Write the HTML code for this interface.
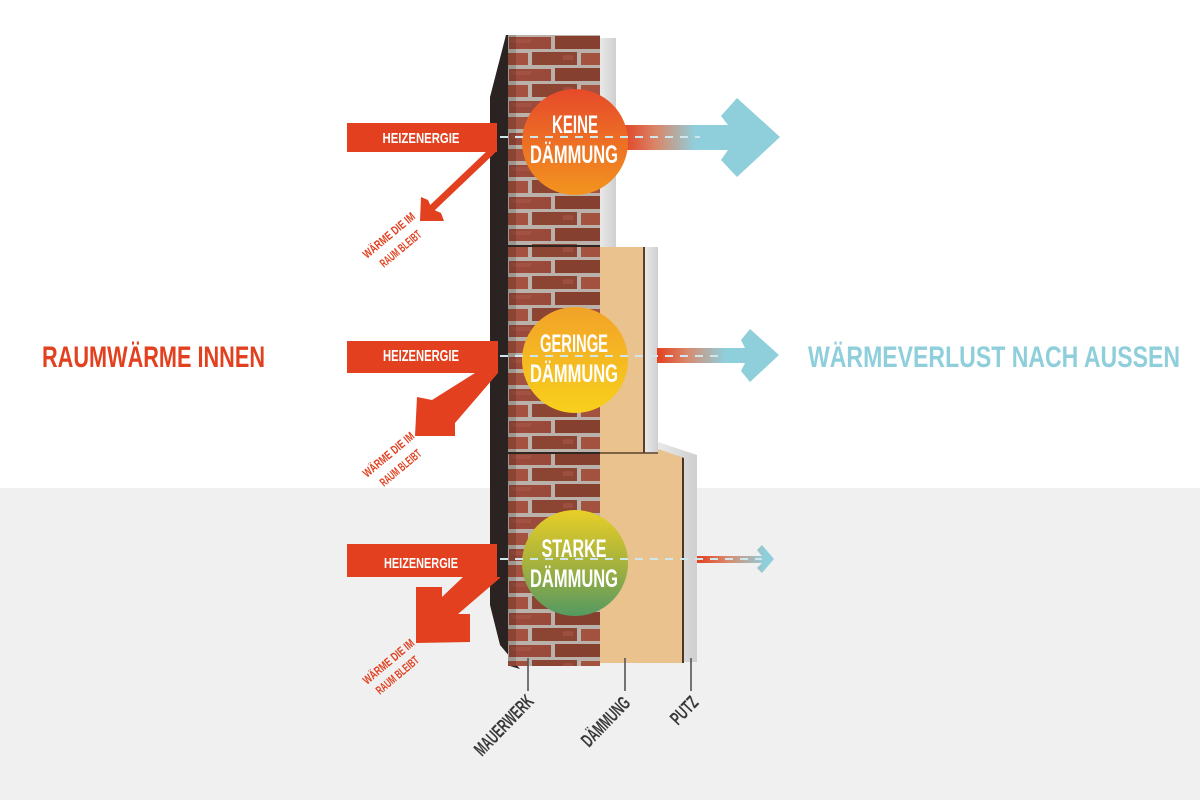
<!DOCTYPE html>
<html><head><meta charset="utf-8"><style>
html,body{margin:0;padding:0;background:#fff;}
svg{display:block;}
text{font-family:"Liberation Sans Narrow","Liberation Sans",sans-serif;font-weight:bold;}
</style></head><body>
<svg width="1200" height="800" viewBox="0 0 1200 800" xmlns="http://www.w3.org/2000/svg">
<defs>
  <pattern id="brick" x="508" y="35" width="96" height="32" patternUnits="userSpaceOnUse">
    <rect x="0" y="0" width="96" height="32" fill="#bab2aa"/>
    <rect x="1" y="2" width="42" height="12" fill="#9a4a3a"/>
    <rect x="47" y="1" width="45" height="13" fill="#86402f"/>
    <rect x="0" y="18" width="20" height="12" fill="#a3523f"/>
    <rect x="24" y="17" width="45" height="13" fill="#8c4433"/>
    <rect x="73" y="18" width="23" height="12" fill="#a3523f"/>
    <rect x="3" y="4" width="20" height="4" fill="#a9594a" opacity="0.5"/>
    <rect x="55" y="20" width="10" height="5" fill="#b06050" opacity="0.4"/>
  </pattern>
  <linearGradient id="g1" gradientUnits="userSpaceOnUse" x1="625" y1="0" x2="695" y2="0">
    <stop offset="0" stop-color="#e2472a"/><stop offset="0.45" stop-color="#d9876a"/><stop offset="1" stop-color="#8fcfdc"/>
  </linearGradient>
  <linearGradient id="g2" gradientUnits="userSpaceOnUse" x1="657" y1="0" x2="725" y2="0">
    <stop offset="0" stop-color="#e3401e"/><stop offset="0.45" stop-color="#d98a6e"/><stop offset="1" stop-color="#8fcfdc"/>
  </linearGradient>
  <linearGradient id="g3" gradientUnits="userSpaceOnUse" x1="697" y1="0" x2="765" y2="0">
    <stop offset="0" stop-color="#e3401e"/><stop offset="0.45" stop-color="#d98a6e"/><stop offset="1" stop-color="#8fcfdc"/>
  </linearGradient>
  <linearGradient id="c1" x1="0" y1="0" x2="0" y2="1">
    <stop offset="0" stop-color="#e64a2a"/><stop offset="1" stop-color="#f3941f"/>
  </linearGradient>
  <linearGradient id="c2" x1="0" y1="0" x2="0" y2="1">
    <stop offset="0" stop-color="#f2a228"/><stop offset="1" stop-color="#f8d01c"/>
  </linearGradient>
  <linearGradient id="c3" x1="0" y1="0" x2="0" y2="1">
    <stop offset="0" stop-color="#e8cf28"/><stop offset="0.5" stop-color="#a7b23c"/><stop offset="1" stop-color="#549a62"/>
  </linearGradient>
  <linearGradient id="pl" x1="0" y1="0" x2="1" y2="0">
    <stop offset="0" stop-color="#e9e9e9"/><stop offset="1" stop-color="#cfcfcf"/>
  </linearGradient>
</defs>

<rect x="0" y="0" width="1200" height="800" fill="#ffffff"/>
<rect x="0" y="488" width="1200" height="312" fill="#f0f0f0"/>

<polygon points="506,35 510,35 510,666 520,669 500,645 490,605 490,97" fill="#2b2321"/>
<rect x="508" y="35" width="92" height="631" fill="url(#brick)"/>
<rect x="508" y="35" width="8" height="631" fill="#000" opacity="0.15"/>
<line x1="508" y1="246" x2="600" y2="246" stroke="#2f2521" stroke-width="2"/>
<line x1="508" y1="453" x2="600" y2="453" stroke="#2f2521" stroke-width="2"/>

<rect x="600" y="38" width="16" height="209" fill="url(#pl)"/>
<rect x="600" y="247" width="44" height="206" fill="#e9c28d"/>
<rect x="643" y="247" width="2" height="206" fill="#5a3f2a"/>
<rect x="645" y="247" width="13" height="206" fill="url(#pl)"/>
<polygon points="600,453 658,453 658,448 682,457 682,663 600,663" fill="#e9c28d"/>
<rect x="682" y="457" width="2" height="206" fill="#4a3526"/>
<polygon points="658,442 697,455 697,662 684,662 684,458 658,449" fill="url(#pl)"/>
<line x1="600" y1="453" x2="658" y2="453" stroke="#5a3f2a" stroke-width="1.5"/>

<rect x="347" y="123" width="150" height="29" fill="#e2401f"/>
<line x1="493" y1="150" x2="430" y2="210" stroke="#e2401f" stroke-width="7"/>
<polygon points="420,221 421,197 428,200 432,209 441,213 444,221" fill="#e2401f"/>

<rect x="347" y="341" width="151" height="32" fill="#e2401f"/>
<polygon points="475,373 432,400 417,397 415,436 455,436 455,423 498,373" fill="#e2401f"/>

<rect x="347" y="544" width="150" height="33" fill="#e2401f"/>
<polygon points="463,577 442,597 442,587 416,587 416,643 470,642 470,614 458,614 500,578 500,577" fill="#e2401f"/>

<text x="421" y="143" fill="#fff" font-size="15" text-anchor="middle" textLength="77" lengthAdjust="spacingAndGlyphs">HEIZENERGIE</text>
<text x="421" y="361" fill="#fff" font-size="16" text-anchor="middle" textLength="76" lengthAdjust="spacingAndGlyphs">HEIZENERGIE</text>
<text x="421" y="568" fill="#fff" font-size="15" text-anchor="middle" textLength="74" lengthAdjust="spacingAndGlyphs">HEIZENERGIE</text>

<g fill="#e2401f" font-size="12">
  <text x="367" y="259" transform="rotate(-40 367 259)" textLength="64" lengthAdjust="spacingAndGlyphs">WÄRME DIE IM</text>
  <text x="384" y="268" transform="rotate(-40 384 268)" textLength="50" lengthAdjust="spacingAndGlyphs">RAUM BLEIBT</text>
  <text x="367" y="478" transform="rotate(-40 367 478)" textLength="63" lengthAdjust="spacingAndGlyphs">WÄRME DIE IM</text>
  <text x="384" y="487" transform="rotate(-40 384 487)" textLength="50" lengthAdjust="spacingAndGlyphs">RAUM BLEIBT</text>
  <text x="367" y="685" transform="rotate(-40 367 685)" textLength="63" lengthAdjust="spacingAndGlyphs">WÄRME DIE IM</text>
  <text x="380" y="695" transform="rotate(-40 380 695)" textLength="52" lengthAdjust="spacingAndGlyphs">RAUM BLEIBT</text>
</g>

<polygon points="625,125 728,125 721,116 737,98 780,137 737,177 721,160 728,150 625,150" fill="url(#g1)"/>
<polygon points="657,348 745,348 741,340 750,329 779,355 750,382 741,371 745,363 657,363" fill="url(#g2)"/>
<polygon points="697,556 762,556 757,550 762,545 774,559 762,573 757,568 762,563 697,563" fill="url(#g3)"/>

<circle cx="575" cy="142" r="53" fill="url(#c1)"/>
<circle cx="575" cy="360" r="53" fill="url(#c2)"/>
<circle cx="575" cy="563" r="53" fill="url(#c3)"/>

<g stroke="#cfe6ec" stroke-width="2" stroke-dasharray="8 7" fill="none">
  <line x1="500" y1="137" x2="700" y2="137"/>
  <line x1="500" y1="356" x2="725" y2="356"/>
  <line x1="500" y1="559" x2="762" y2="559"/>
</g>

<g fill="#fff" font-size="25" text-anchor="middle">
  <text x="575" y="133" textLength="46" lengthAdjust="spacingAndGlyphs">KEINE</text>
  <text x="574" y="163" textLength="88" lengthAdjust="spacingAndGlyphs">DÄMMUNG</text>
  <text x="574" y="352" textLength="68" lengthAdjust="spacingAndGlyphs">GERINGE</text>
  <text x="574" y="382" textLength="88" lengthAdjust="spacingAndGlyphs">DÄMMUNG</text>
  <text x="574" y="557" textLength="65" lengthAdjust="spacingAndGlyphs">STARKE</text>
  <text x="574" y="587" textLength="88" lengthAdjust="spacingAndGlyphs">DÄMMUNG</text>
</g>

<text x="42" y="367" fill="#e2401e" font-size="30" textLength="223" lengthAdjust="spacingAndGlyphs">RAUMWÄRME INNEN</text>
<text x="808" y="367" fill="#8fcfdc" font-size="30" textLength="372" lengthAdjust="spacingAndGlyphs">WÄRMEVERLUST NACH AUSSEN</text>

<g stroke="#555" stroke-width="1.6">
  <line x1="528" y1="658" x2="528" y2="691"/>
  <line x1="625" y1="658" x2="625" y2="691"/>
  <line x1="691" y1="658" x2="691" y2="691"/>
</g>
<g fill="#3a3a3a" font-size="19">
  <text x="482" y="757" transform="rotate(-46 482 757)" textLength="76" lengthAdjust="spacingAndGlyphs">MAUERWERK</text>
  <text x="589" y="748" transform="rotate(-46 589 748)" textLength="61" lengthAdjust="spacingAndGlyphs">DÄMMUNG</text>
  <text x="678" y="726" transform="rotate(-46 678 726)" textLength="31" lengthAdjust="spacingAndGlyphs">PUTZ</text>
</g>
</svg>
</body></html>
